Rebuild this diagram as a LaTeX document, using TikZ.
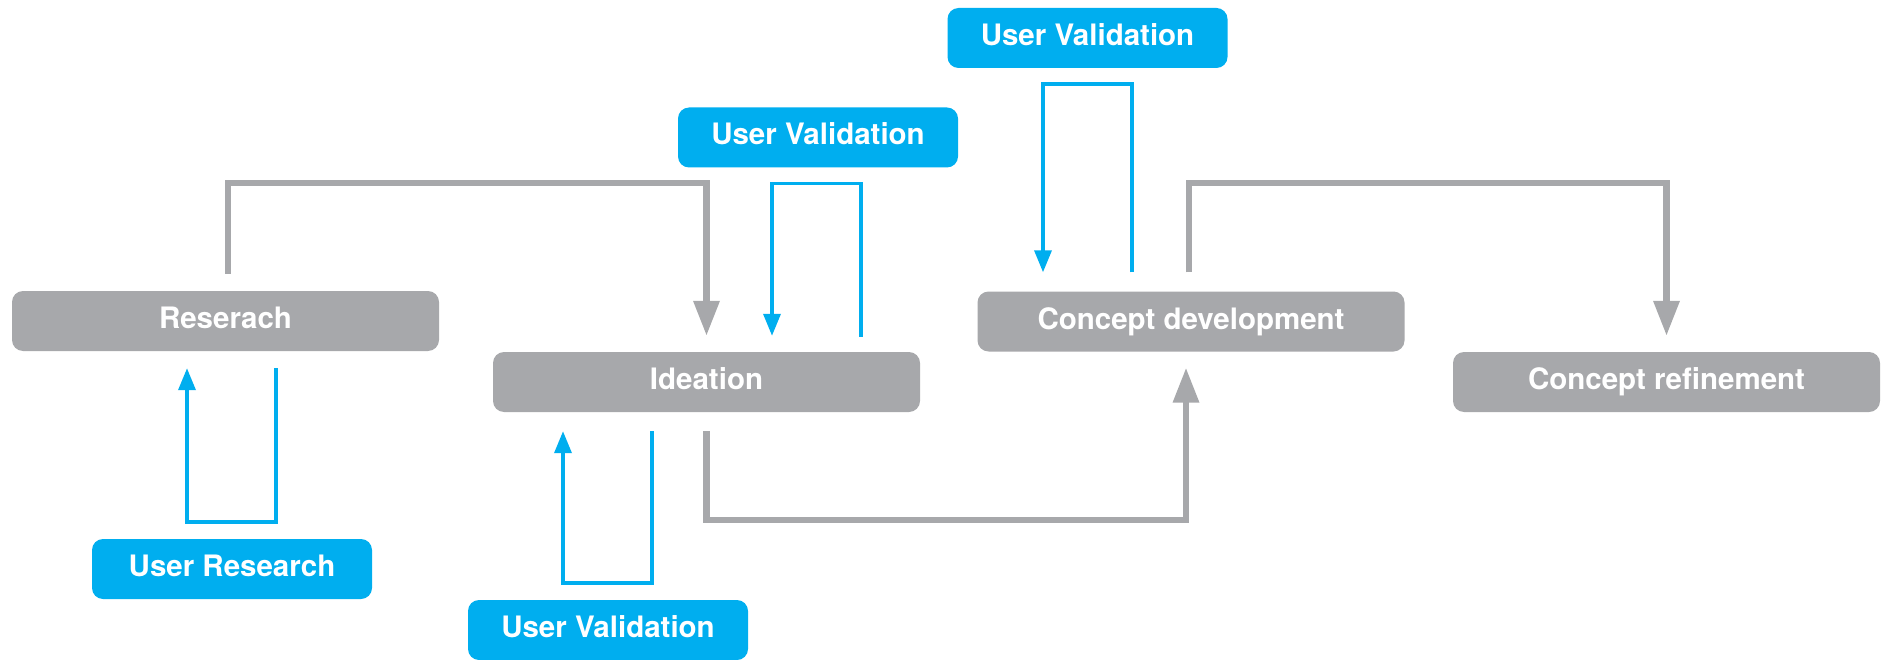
\documentclass[tikz,border=0pt]{standalone}
\usepackage{fontspec}
\setmainfont{TeX Gyre Heros}
\usetikzlibrary{arrows.meta}
\definecolor{stepgray}{HTML}{A7A8AB}
\definecolor{userblue}{HTML}{00AEEF}
\tikzset{
  box/.style={rounded corners=11pt, minimum height=60pt, inner sep=0pt,
    text=white, font=\fontsize{29.5}{35}\selectfont\bfseries,
    text height=21pt, text depth=6pt},
  stepbox/.style={box, fill=stepgray, minimum width=427pt},
  userbox/.style={box, fill=userblue, minimum width=280pt},
  gline/.style={draw=stepgray, line width=6.5pt,
    -{Triangle[length=35pt,width=25pt]}},
  bline/.style={draw=userblue, line width=3.5pt,
    -{Triangle[length=22pt,width=17pt]}},
}
\begin{document}
\begin{tikzpicture}[x=1pt,y=-1pt]
\useasboundingbox (0,0) rectangle (1881,660);

% process steps
\node[stepbox] (res)  at (225.5,321) {Reserach};
\node[stepbox] (idea) at (706.5,382) {Ideation};
\node[stepbox] (cdev) at (1191,321.5) {Concept development};
\node[stepbox] (cref) at (1666.5,382) {Concept refinement};

% user activities
\node[userbox] (ur)  at (232,569)    {User Research};
\node[userbox] (uv1) at (608,630)    {User Validation};
\node[userbox] (uv2) at (818,137.5)  {User Validation};
\node[userbox] (uv3) at (1087.5,38)  {User Validation};

% levels of the horizontal runs
\coordinate (top) at (0,183);
\coordinate (low) at (0,520);

% main flow between steps
\draw[gline, shorten <=17pt, shorten >=16pt]
  ([xshift=2.5pt]res.north) -- ([xshift=2.5pt]res.north |- top) -| (idea.north);
\draw[gline, shorten <=19pt, shorten >=16pt]
  (idea.south) -- (idea.south |- low) -| ([xshift=-5pt]cdev.south);
\draw[gline, shorten <=19pt, shorten >=16pt]
  ([xshift=-2pt]cdev.north) -- ([xshift=-2pt]cdev.north |- top) -| (cref.north);

% feedback loops
\draw[bline, shorten <=17pt, shorten >=17pt]
  ([xshift=44pt]ur.north |- res.south) -- ([xshift=44pt,yshift=17pt]ur.north)
  -| ([xshift=-45pt]ur.north |- res.south);
\draw[bline, shorten <=19pt, shorten >=19pt]
  ([xshift=44pt]uv1.north |- idea.south) -- ([xshift=44pt,yshift=17pt]uv1.north)
  -| ([xshift=-45pt]uv1.north |- idea.south);
\draw[bline, shorten <=15pt, shorten >=16pt]
  ([xshift=43pt]uv2.south |- idea.north) -- ([xshift=43pt,yshift=-16pt]uv2.south)
  -| ([xshift=-46pt]uv2.south |- idea.north);
\draw[bline, shorten <=19pt, shorten >=19pt]
  ([xshift=44.5pt]uv3.south |- cdev.north) -- ([xshift=44.5pt,yshift=-16pt]uv3.south)
  -| ([xshift=-44.5pt]uv3.south |- cdev.north);
\end{tikzpicture}
\end{document}
